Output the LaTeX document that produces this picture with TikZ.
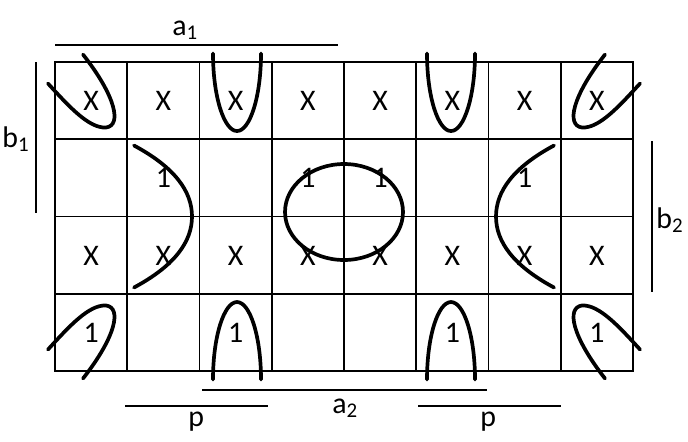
\documentclass[tikz,border=0pt]{standalone}
\usepackage{fontspec}
\setmainfont{Carlito}
\usetikzlibrary{positioning}

\begin{document}
\begin{tikzpicture}[
		x=0.02cm, y=-0.02cm,
		gridline/.style={draw, line width=1.1pt, line cap=rect},
		cell/.style={font=\fontsize{17}{20}\selectfont, inner sep=0pt},
		loopline/.style={draw, line width=2.1pt, line cap=round},
		bar/.style={draw, line width=0.8pt},
		lbl/.style={font=\fontsize{17}{20}\selectfont, inner sep=0pt,
			anchor=base west}
	]
	\useasboundingbox (0,0) rectangle (688,441);
	% map grid
	\foreach \i in {0,...,8}
		\draw[gridline] ({55+72.25*\i},62) -- ({55+72.25*\i},371);
	\foreach \j in {0,...,4}
		\draw[gridline] (55,{62+77.25*\j}) -- (633,{62+77.25*\j});
	% cell entries
	\foreach \c in {1,...,8} {
		\node[cell] (dcA\c) at ({55+72.25*(\c-0.5)},100.5) {X};
		\node[cell] (dcC\c) at ({55+72.25*(\c-0.5)},255.5) {X};
	}
	\foreach \c in {2,4,5,7}
		\node[cell] (oneB\c) at ({55+72.25*(\c-0.5)},178) {1};
	\foreach \c in {1,3,6,8}
		\node[cell] (oneD\c) at ({55+72.25*(\c-0.5)},332.5) {1};
	% variable bars
	\draw[bar] (55,45) -- (338,45);
	\draw[bar] (36,62) -- (36,213);
	\draw[bar] (652,141) -- (652,292);
	\draw[bar] (202,390) -- (487,390);
	\draw[bar] (125,406) -- (268,406);
	\draw[bar] (418,406) -- (561,406);
	\node[lbl] (a1) at (172,35) {a\textsubscript{1}};
	\node[lbl] (b1) at (2,147) {b\textsubscript{1}};
	\node[lbl] (b2) at (656,228) {b\textsubscript{2}};
	\node[lbl] (a2) at (332,413) {a\textsubscript{2}};
	\node[lbl] (p1) at (188,426) {p};
	\node[lbl] (p2) at (480,426) {p};
	% groupings
	\foreach \fx/\fy in {1/1,-1/1,1/-1,-1/-1}
		\draw[loopline, shift={(344,216.5)}, xscale=\fx, yscale=\fy]
			(-296,-133) .. controls (-275,-110) and (-255,-88) .. (-238,-89)
			.. controls (-222,-91) and (-228,-120) .. (-261,-162)
			(-131,-163) .. controls (-131,-120) and (-120,-85.5) .. (-107,-85.5)
			.. controls (-94,-85.5) and (-83,-120) .. (-83,-163);
	\foreach \fx in {1,-1}
		\draw[loopline, shift={(344,216.5)}, xscale=\fx]
			(-210,-71) .. controls (-169,-49) and (-152,-25) .. (-152,0)
			.. controls (-152,25) and (-169,49) .. (-210,71);
	\draw[loopline] (344,212) ellipse [x radius=1.18cm, y radius=0.96cm];
\end{tikzpicture}
\end{document}
